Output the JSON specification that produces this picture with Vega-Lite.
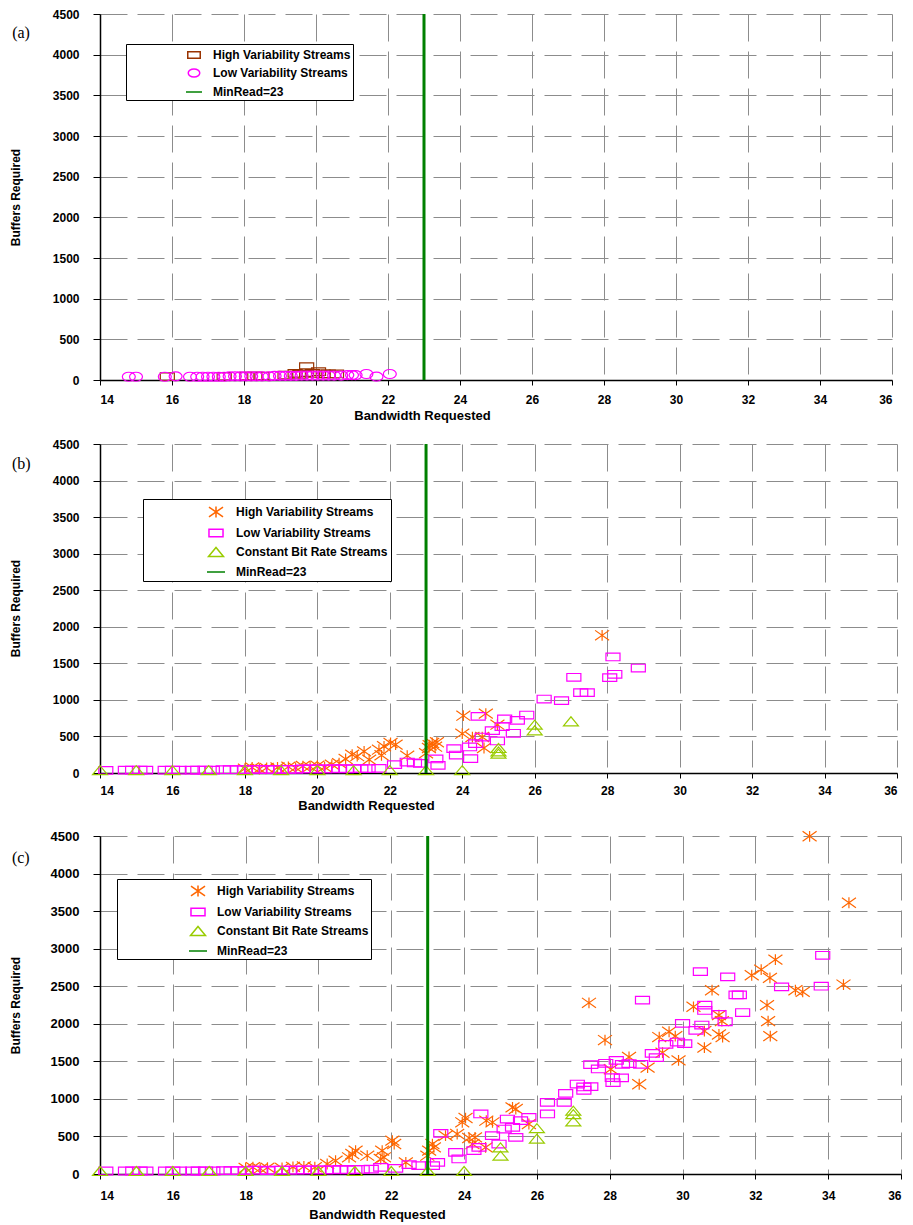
{
  "$schema": "https://vega.github.io/schema/vega-lite/v6.json",
  "background": "white",
  "padding": {"left": 9, "top": 8, "right": 5, "bottom": 3},
  "spacing": 16,
  "config": {
    "view": {"stroke": null},
    "axis": {"labelFont": "Liberation Sans", "labelFontSize": 12, "labelFontWeight": "bold", "labelColor": "#000", "labelOverlap": false, "titleFont": "Liberation Sans", "titleFontSize": 13, "titleFontWeight": "bold", "titleColor": "#000", "domainColor": "#000", "domainWidth": 1.5, "tickColor": "#000", "gridColor": "#8c8c8c", "gridDash": [27, 10], "gridWidth": 1},
    "legend": {"title": null, "orient": "none", "fillColor": "white", "strokeColor": "black", "labelFont": "Liberation Sans", "labelFontSize": 12, "labelFontWeight": "bold", "labelColor": "#000", "labelLimit": 500, "symbolStrokeWidth": 1.5}
  },
  "resolve": {"scale": {"x": "independent", "y": "independent", "color": "independent", "shape": "independent"}},
  "vconcat": [
    {
      "width": 792, "height": 366,
      "layer": [
        {
          "data": {"values": [
            {"series": "High Variability Streams", "bw": 15.87, "buf": 41},
            {"series": "High Variability Streams", "bw": 17.45, "buf": 45},
            {"series": "High Variability Streams", "bw": 18.08, "buf": 49},
            {"series": "High Variability Streams", "bw": 18.3, "buf": 49},
            {"series": "High Variability Streams", "bw": 18.5, "buf": 49},
            {"series": "High Variability Streams", "bw": 19.14, "buf": 61},
            {"series": "High Variability Streams", "bw": 19.42, "buf": 82},
            {"series": "High Variability Streams", "bw": 19.55, "buf": 70},
            {"series": "High Variability Streams", "bw": 19.74, "buf": 90},
            {"series": "High Variability Streams", "bw": 19.74, "buf": 164},
            {"series": "High Variability Streams", "bw": 19.9, "buf": 80},
            {"series": "High Variability Streams", "bw": 20.07, "buf": 102},
            {"series": "High Variability Streams", "bw": 20.2, "buf": 75},
            {"series": "High Variability Streams", "bw": 20.34, "buf": 74},
            {"series": "High Variability Streams", "bw": 20.57, "buf": 74},
            {"series": "Low Variability Streams", "bw": 14.8, "buf": 40},
            {"series": "Low Variability Streams", "bw": 15.0, "buf": 40},
            {"series": "Low Variability Streams", "bw": 15.8, "buf": 40},
            {"series": "Low Variability Streams", "bw": 16.1, "buf": 45},
            {"series": "Low Variability Streams", "bw": 16.5, "buf": 40},
            {"series": "Low Variability Streams", "bw": 16.7, "buf": 40},
            {"series": "Low Variability Streams", "bw": 16.85, "buf": 40},
            {"series": "Low Variability Streams", "bw": 17.0, "buf": 40},
            {"series": "Low Variability Streams", "bw": 17.15, "buf": 40},
            {"series": "Low Variability Streams", "bw": 17.3, "buf": 40},
            {"series": "Low Variability Streams", "bw": 17.45, "buf": 40},
            {"series": "Low Variability Streams", "bw": 17.6, "buf": 45},
            {"series": "Low Variability Streams", "bw": 17.75, "buf": 45},
            {"series": "Low Variability Streams", "bw": 17.9, "buf": 45},
            {"series": "Low Variability Streams", "bw": 18.05, "buf": 45},
            {"series": "Low Variability Streams", "bw": 18.2, "buf": 45},
            {"series": "Low Variability Streams", "bw": 18.35, "buf": 45},
            {"series": "Low Variability Streams", "bw": 18.5, "buf": 45},
            {"series": "Low Variability Streams", "bw": 18.7, "buf": 45},
            {"series": "Low Variability Streams", "bw": 18.85, "buf": 50},
            {"series": "Low Variability Streams", "bw": 19.0, "buf": 50},
            {"series": "Low Variability Streams", "bw": 19.15, "buf": 50},
            {"series": "Low Variability Streams", "bw": 19.3, "buf": 50},
            {"series": "Low Variability Streams", "bw": 19.45, "buf": 50},
            {"series": "Low Variability Streams", "bw": 19.6, "buf": 55},
            {"series": "Low Variability Streams", "bw": 19.75, "buf": 55},
            {"series": "Low Variability Streams", "bw": 19.9, "buf": 55},
            {"series": "Low Variability Streams", "bw": 20.05, "buf": 55},
            {"series": "Low Variability Streams", "bw": 20.2, "buf": 55},
            {"series": "Low Variability Streams", "bw": 20.35, "buf": 55},
            {"series": "Low Variability Streams", "bw": 20.5, "buf": 55},
            {"series": "Low Variability Streams", "bw": 20.7, "buf": 55},
            {"series": "Low Variability Streams", "bw": 20.87, "buf": 60},
            {"series": "Low Variability Streams", "bw": 21.0, "buf": 60},
            {"series": "Low Variability Streams", "bw": 21.1, "buf": 60},
            {"series": "Low Variability Streams", "bw": 21.4, "buf": 74},
            {"series": "Low Variability Streams", "bw": 21.68, "buf": 41},
            {"series": "Low Variability Streams", "bw": 22.05, "buf": 74}
          ]},
          "mark": {"type": "point", "filled": false, "size": 324, "strokeWidth": 1.2, "opacity": 1},
          "encoding": {
            "x": {"field": "bw", "type": "quantitative", "scale": {"domain": [14, 36], "nice": false, "zero": false},
                  "axis": {"values": [14, 16, 18, 20, 22, 24, 26, 28, 30, 32, 34, 36], "labelOverlap": false, "title": "Bandwidth Requested", "tickSize": 5, "labelPadding": 9, "titleX": 322, "titleY": 35, "titleBaseline": "middle"}},
            "y": {"field": "buf", "type": "quantitative", "scale": {"domain": [0, 4500], "nice": false},
                  "axis": {"values": [0, 500, 1000, 1500, 2000, 2500, 3000, 3500, 4000, 4500], "labelOverlap": false, "tickCount": 10, "format": "d", "title": "Buffers Required", "tickSize": 7, "labelPadding": 14, "titleX": -85, "titleY": 183, "titleBaseline": "middle", "titleFontSize": 12}},
            "color": {"field": "series", "type": "nominal",
                      "scale": {"domain": ["High Variability Streams", "Low Variability Streams", "MinRead=23"], "range": ["#993300", "#ff00ff", "#008000"]},
                      "legend": {"legendX": 26, "legendY": 30, "padding": 2, "symbolOffset": 57, "labelOffset": 10, "rowPadding": 2, "symbolSize": 256}},
            "shape": {"field": "series", "type": "nominal",
                      "scale": {"domain": ["High Variability Streams", "Low Variability Streams", "MinRead=23"], "range": ["M-0.78,-0.42L0.78,-0.42L0.78,0.42L-0.78,0.42Z", "M-0.72,0A0.72,0.5,0,1,0,0.72,0A0.72,0.5,0,1,0,-0.72,0Z", "stroke"]},
                      "legend": {"legendX": 26, "legendY": 30, "padding": 2, "symbolOffset": 57, "labelOffset": 10, "rowPadding": 2, "symbolSize": 256}}
          }
        },
        {
          "data": {"values": [{"series": "MinRead=23", "bw": 23}]},
          "mark": {"type": "rule", "strokeWidth": 3},
          "encoding": {"x": {"field": "bw", "type": "quantitative"}, "color": {"field": "series", "type": "nominal"}}
        },
        {
          "data": {"values": [{"label": "(a)"}]},
          "mark": {"type": "text", "font": "Liberation Serif", "fontSize": 16, "align": "left", "baseline": "middle", "color": "#000"},
          "encoding": {"x": {"datum": 11.56}, "y": {"datum": 4266}, "text": {"field": "label"}}
        }
      ]
    },
    {
      "width": 797, "height": 329,
      "layer": [
        {
          "data": {"values": [
            {"series": "High Variability Streams", "bw": 18.0, "buf": 60},
            {"series": "High Variability Streams", "bw": 18.2, "buf": 75},
            {"series": "High Variability Streams", "bw": 18.4, "buf": 55},
            {"series": "High Variability Streams", "bw": 18.6, "buf": 70},
            {"series": "High Variability Streams", "bw": 18.9, "buf": 75},
            {"series": "High Variability Streams", "bw": 19.2, "buf": 85},
            {"series": "High Variability Streams", "bw": 19.4, "buf": 70},
            {"series": "High Variability Streams", "bw": 19.6, "buf": 95},
            {"series": "High Variability Streams", "bw": 19.8, "buf": 85},
            {"series": "High Variability Streams", "bw": 20.0, "buf": 100},
            {"series": "High Variability Streams", "bw": 20.2, "buf": 80},
            {"series": "High Variability Streams", "bw": 20.4, "buf": 115},
            {"series": "High Variability Streams", "bw": 20.6, "buf": 135},
            {"series": "High Variability Streams", "bw": 20.78, "buf": 192},
            {"series": "High Variability Streams", "bw": 20.96, "buf": 251},
            {"series": "High Variability Streams", "bw": 21.1, "buf": 230},
            {"series": "High Variability Streams", "bw": 21.29, "buf": 296},
            {"series": "High Variability Streams", "bw": 21.43, "buf": 182},
            {"series": "High Variability Streams", "bw": 21.7, "buf": 319},
            {"series": "High Variability Streams", "bw": 21.77, "buf": 242},
            {"series": "High Variability Streams", "bw": 21.84, "buf": 365},
            {"series": "High Variability Streams", "bw": 22.02, "buf": 410},
            {"series": "High Variability Streams", "bw": 22.16, "buf": 388},
            {"series": "High Variability Streams", "bw": 22.48, "buf": 237},
            {"series": "High Variability Streams", "bw": 23.0, "buf": 270},
            {"series": "High Variability Streams", "bw": 23.08, "buf": 342},
            {"series": "High Variability Streams", "bw": 23.1, "buf": 380},
            {"series": "High Variability Streams", "bw": 23.17, "buf": 410},
            {"series": "High Variability Streams", "bw": 23.25, "buf": 360},
            {"series": "High Variability Streams", "bw": 23.3, "buf": 420},
            {"series": "High Variability Streams", "bw": 24.0, "buf": 538},
            {"series": "High Variability Streams", "bw": 24.03, "buf": 784},
            {"series": "High Variability Streams", "bw": 24.28, "buf": 492},
            {"series": "High Variability Streams", "bw": 24.55, "buf": 492},
            {"series": "High Variability Streams", "bw": 24.6, "buf": 342},
            {"series": "High Variability Streams", "bw": 24.65, "buf": 812},
            {"series": "High Variability Streams", "bw": 24.97, "buf": 661},
            {"series": "High Variability Streams", "bw": 27.86, "buf": 1883},
            {"series": "Low Variability Streams", "bw": 14.16, "buf": 35},
            {"series": "Low Variability Streams", "bw": 14.7, "buf": 40},
            {"series": "Low Variability Streams", "bw": 14.9, "buf": 40},
            {"series": "Low Variability Streams", "bw": 15.1, "buf": 40},
            {"series": "Low Variability Streams", "bw": 15.26, "buf": 40},
            {"series": "Low Variability Streams", "bw": 15.8, "buf": 40},
            {"series": "Low Variability Streams", "bw": 16.0, "buf": 40},
            {"series": "Low Variability Streams", "bw": 16.18, "buf": 40},
            {"series": "Low Variability Streams", "bw": 16.55, "buf": 40},
            {"series": "Low Variability Streams", "bw": 16.7, "buf": 40},
            {"series": "Low Variability Streams", "bw": 16.9, "buf": 40},
            {"series": "Low Variability Streams", "bw": 17.1, "buf": 40},
            {"series": "Low Variability Streams", "bw": 17.4, "buf": 45},
            {"series": "Low Variability Streams", "bw": 17.6, "buf": 45},
            {"series": "Low Variability Streams", "bw": 17.8, "buf": 45},
            {"series": "Low Variability Streams", "bw": 18.0, "buf": 45},
            {"series": "Low Variability Streams", "bw": 18.2, "buf": 50},
            {"series": "Low Variability Streams", "bw": 18.4, "buf": 50},
            {"series": "Low Variability Streams", "bw": 18.6, "buf": 45},
            {"series": "Low Variability Streams", "bw": 18.8, "buf": 50},
            {"series": "Low Variability Streams", "bw": 19.0, "buf": 50},
            {"series": "Low Variability Streams", "bw": 19.2, "buf": 50},
            {"series": "Low Variability Streams", "bw": 19.4, "buf": 50},
            {"series": "Low Variability Streams", "bw": 19.6, "buf": 55},
            {"series": "Low Variability Streams", "bw": 19.8, "buf": 55},
            {"series": "Low Variability Streams", "bw": 20.0, "buf": 55},
            {"series": "Low Variability Streams", "bw": 20.2, "buf": 55},
            {"series": "Low Variability Streams", "bw": 20.4, "buf": 55},
            {"series": "Low Variability Streams", "bw": 20.6, "buf": 60},
            {"series": "Low Variability Streams", "bw": 20.8, "buf": 55},
            {"series": "Low Variability Streams", "bw": 21.0, "buf": 60},
            {"series": "Low Variability Streams", "bw": 21.2, "buf": 60},
            {"series": "Low Variability Streams", "bw": 21.4, "buf": 60},
            {"series": "Low Variability Streams", "bw": 21.7, "buf": 64},
            {"series": "Low Variability Streams", "bw": 22.13, "buf": 114},
            {"series": "Low Variability Streams", "bw": 22.48, "buf": 150},
            {"series": "Low Variability Streams", "bw": 22.68, "buf": 137},
            {"series": "Low Variability Streams", "bw": 22.85, "buf": 132},
            {"series": "Low Variability Streams", "bw": 23.27, "buf": 192},
            {"series": "Low Variability Streams", "bw": 23.33, "buf": 105},
            {"series": "Low Variability Streams", "bw": 23.77, "buf": 333},
            {"series": "Low Variability Streams", "bw": 23.84, "buf": 246},
            {"series": "Low Variability Streams", "bw": 24.2, "buf": 356},
            {"series": "Low Variability Streams", "bw": 24.23, "buf": 196},
            {"series": "Low Variability Streams", "bw": 24.37, "buf": 401},
            {"series": "Low Variability Streams", "bw": 24.44, "buf": 775},
            {"series": "Low Variability Streams", "bw": 24.55, "buf": 492},
            {"series": "Low Variability Streams", "bw": 24.83, "buf": 579},
            {"series": "Low Variability Streams", "bw": 24.97, "buf": 438},
            {"series": "Low Variability Streams", "bw": 25.1, "buf": 634},
            {"series": "Low Variability Streams", "bw": 25.17, "buf": 739},
            {"series": "Low Variability Streams", "bw": 25.41, "buf": 543},
            {"series": "Low Variability Streams", "bw": 25.52, "buf": 720},
            {"series": "Low Variability Streams", "bw": 25.78, "buf": 793},
            {"series": "Low Variability Streams", "bw": 26.26, "buf": 1012},
            {"series": "Low Variability Streams", "bw": 26.74, "buf": 990},
            {"series": "Low Variability Streams", "bw": 27.08, "buf": 1309},
            {"series": "Low Variability Streams", "bw": 27.27, "buf": 1099},
            {"series": "Low Variability Streams", "bw": 27.45, "buf": 1099},
            {"series": "Low Variability Streams", "bw": 28.07, "buf": 1304},
            {"series": "Low Variability Streams", "bw": 28.16, "buf": 1587},
            {"series": "Low Variability Streams", "bw": 28.21, "buf": 1350},
            {"series": "Low Variability Streams", "bw": 28.86, "buf": 1436},
            {"series": "Constant Bit Rate Streams", "bw": 14, "buf": 40},
            {"series": "Constant Bit Rate Streams", "bw": 15, "buf": 40},
            {"series": "Constant Bit Rate Streams", "bw": 16, "buf": 40},
            {"series": "Constant Bit Rate Streams", "bw": 17, "buf": 40},
            {"series": "Constant Bit Rate Streams", "bw": 18, "buf": 40},
            {"series": "Constant Bit Rate Streams", "bw": 19, "buf": 40},
            {"series": "Constant Bit Rate Streams", "bw": 20, "buf": 40},
            {"series": "Constant Bit Rate Streams", "bw": 21, "buf": 40},
            {"series": "Constant Bit Rate Streams", "bw": 22, "buf": 40},
            {"series": "Constant Bit Rate Streams", "bw": 23, "buf": 40},
            {"series": "Constant Bit Rate Streams", "bw": 24, "buf": 40},
            {"series": "Constant Bit Rate Streams", "bw": 25, "buf": 264},
            {"series": "Constant Bit Rate Streams", "bw": 25, "buf": 296},
            {"series": "Constant Bit Rate Streams", "bw": 25, "buf": 342},
            {"series": "Constant Bit Rate Streams", "bw": 26, "buf": 584},
            {"series": "Constant Bit Rate Streams", "bw": 26, "buf": 661},
            {"series": "Constant Bit Rate Streams", "bw": 27, "buf": 707}
          ]},
          "mark": {"type": "point", "filled": false, "size": 324, "strokeWidth": 1.2, "opacity": 1},
          "encoding": {
            "x": {"field": "bw", "type": "quantitative", "scale": {"domain": [14, 36], "nice": false, "zero": false},
                  "axis": {"values": [14, 16, 18, 20, 22, 24, 26, 28, 30, 32, 34, 36], "labelOverlap": false, "title": "Bandwidth Requested", "tickSize": 5, "labelPadding": 7, "titleX": 266, "titleY": 32, "titleBaseline": "middle"}},
            "y": {"field": "buf", "type": "quantitative", "scale": {"domain": [0, 4500], "nice": false},
                  "axis": {"values": [0, 500, 1000, 1500, 2000, 2500, 3000, 3500, 4000, 4500], "labelOverlap": false, "tickCount": 10, "format": "d", "title": "Buffers Required", "tickSize": 7, "labelPadding": 14, "titleX": -85, "titleY": 164, "titleBaseline": "middle", "titleFontSize": 12}},
            "color": {"field": "series", "type": "nominal",
                      "scale": {"domain": ["High Variability Streams", "Low Variability Streams", "Constant Bit Rate Streams", "MinRead=23"], "range": ["#ff6600", "#ff00ff", "#99cc00", "#008000"]},
                      "legend": {"legendX": 43, "legendY": 55, "padding": 3, "symbolOffset": 60, "labelOffset": 10, "rowPadding": 2, "symbolSize": 324}},
            "shape": {"field": "series", "type": "nominal",
                      "scale": {"domain": ["High Variability Streams", "Low Variability Streams", "Constant Bit Rate Streams", "MinRead=23"], "range": ["M-0.78,-0.55L0.78,0.55M-0.78,0.55L0.78,-0.55M0,-0.6L0,0.6", "M-0.78,-0.42L0.78,-0.42L0.78,0.42L-0.78,0.42Z", "M-0.83,0.5L0,-0.5L0.83,0.5Z", "stroke"]},
                      "legend": {"legendX": 43, "legendY": 55, "padding": 3, "symbolOffset": 60, "labelOffset": 10, "rowPadding": 2, "symbolSize": 324}}
          }
        },
        {
          "data": {"values": [{"series": "MinRead=23", "bw": 23}]},
          "mark": {"type": "rule", "strokeWidth": 3},
          "encoding": {"x": {"field": "bw", "type": "quantitative"}, "color": {"field": "series", "type": "nominal"}}
        },
        {
          "data": {"values": [{"label": "(b)"}]},
          "mark": {"type": "text", "font": "Liberation Serif", "fontSize": 16, "align": "left", "baseline": "middle", "color": "#000"},
          "encoding": {"x": {"datum": 11.57}, "y": {"datum": 4226}, "text": {"field": "label"}}
        }
      ]
    },
    {
      "width": 801, "height": 338,
      "layer": [
        {
          "data": {"values": [
            {"series": "High Variability Streams", "bw": 18.0, "buf": 80},
            {"series": "High Variability Streams", "bw": 18.2, "buf": 90},
            {"series": "High Variability Streams", "bw": 18.4, "buf": 70},
            {"series": "High Variability Streams", "bw": 18.6, "buf": 85},
            {"series": "High Variability Streams", "bw": 19.0, "buf": 80},
            {"series": "High Variability Streams", "bw": 19.3, "buf": 95},
            {"series": "High Variability Streams", "bw": 19.6, "buf": 100},
            {"series": "High Variability Streams", "bw": 19.9, "buf": 90},
            {"series": "High Variability Streams", "bw": 20.24, "buf": 133},
            {"series": "High Variability Streams", "bw": 20.47, "buf": 177},
            {"series": "High Variability Streams", "bw": 20.84, "buf": 222},
            {"series": "High Variability Streams", "bw": 20.93, "buf": 266},
            {"series": "High Variability Streams", "bw": 21.02, "buf": 311},
            {"series": "High Variability Streams", "bw": 21.34, "buf": 244},
            {"series": "High Variability Streams", "bw": 21.71, "buf": 200},
            {"series": "High Variability Streams", "bw": 21.75, "buf": 311},
            {"series": "High Variability Streams", "bw": 21.8, "buf": 222},
            {"series": "High Variability Streams", "bw": 22.03, "buf": 444},
            {"series": "High Variability Streams", "bw": 22.08, "buf": 399},
            {"series": "High Variability Streams", "bw": 22.4, "buf": 155},
            {"series": "High Variability Streams", "bw": 22.99, "buf": 244},
            {"series": "High Variability Streams", "bw": 23.04, "buf": 311},
            {"series": "High Variability Streams", "bw": 23.13, "buf": 399},
            {"series": "High Variability Streams", "bw": 23.17, "buf": 355},
            {"series": "High Variability Streams", "bw": 23.49, "buf": 510},
            {"series": "High Variability Streams", "bw": 23.81, "buf": 532},
            {"series": "High Variability Streams", "bw": 23.95, "buf": 688},
            {"series": "High Variability Streams", "bw": 24.04, "buf": 745},
            {"series": "High Variability Streams", "bw": 24.14, "buf": 479},
            {"series": "High Variability Streams", "bw": 24.23, "buf": 399},
            {"series": "High Variability Streams", "bw": 24.3, "buf": 488},
            {"series": "High Variability Streams", "bw": 24.59, "buf": 355},
            {"series": "High Variability Streams", "bw": 24.61, "buf": 710},
            {"series": "High Variability Streams", "bw": 24.78, "buf": 688},
            {"series": "High Variability Streams", "bw": 25.33, "buf": 887},
            {"series": "High Variability Streams", "bw": 25.42, "buf": 865},
            {"series": "High Variability Streams", "bw": 25.78, "buf": 666},
            {"series": "High Variability Streams", "bw": 27.43, "buf": 2279},
            {"series": "High Variability Streams", "bw": 27.87, "buf": 1783},
            {"series": "High Variability Streams", "bw": 28.03, "buf": 1394},
            {"series": "High Variability Streams", "bw": 28.53, "buf": 1558},
            {"series": "High Variability Streams", "bw": 28.81, "buf": 1195},
            {"series": "High Variability Streams", "bw": 29.04, "buf": 1416},
            {"series": "High Variability Streams", "bw": 29.36, "buf": 1823},
            {"series": "High Variability Streams", "bw": 29.45, "buf": 1615},
            {"series": "High Variability Streams", "bw": 29.63, "buf": 1894},
            {"series": "High Variability Streams", "bw": 29.8, "buf": 1836},
            {"series": "High Variability Streams", "bw": 29.89, "buf": 1513},
            {"series": "High Variability Streams", "bw": 30.3, "buf": 2226},
            {"series": "High Variability Streams", "bw": 30.6, "buf": 1903},
            {"series": "High Variability Streams", "bw": 30.6, "buf": 1682},
            {"series": "High Variability Streams", "bw": 30.81, "buf": 2447},
            {"series": "High Variability Streams", "bw": 31.0, "buf": 2115},
            {"series": "High Variability Streams", "bw": 31.08, "buf": 2035},
            {"series": "High Variability Streams", "bw": 31.0, "buf": 1858},
            {"series": "High Variability Streams", "bw": 31.1, "buf": 1823},
            {"series": "High Variability Streams", "bw": 31.9, "buf": 2646},
            {"series": "High Variability Streams", "bw": 32.16, "buf": 2721},
            {"series": "High Variability Streams", "bw": 32.4, "buf": 2611},
            {"series": "High Variability Streams", "bw": 32.55, "buf": 2854},
            {"series": "High Variability Streams", "bw": 32.32, "buf": 2248},
            {"series": "High Variability Streams", "bw": 32.35, "buf": 2035},
            {"series": "High Variability Streams", "bw": 32.41, "buf": 1836},
            {"series": "High Variability Streams", "bw": 33.1, "buf": 2447},
            {"series": "High Variability Streams", "bw": 33.3, "buf": 2425},
            {"series": "High Variability Streams", "bw": 33.49, "buf": 4496},
            {"series": "High Variability Streams", "bw": 34.42, "buf": 2522},
            {"series": "High Variability Streams", "bw": 34.57, "buf": 3611},
            {"series": "Low Variability Streams", "bw": 14.16, "buf": 40},
            {"series": "Low Variability Streams", "bw": 14.7, "buf": 40},
            {"series": "Low Variability Streams", "bw": 14.9, "buf": 40},
            {"series": "Low Variability Streams", "bw": 15.1, "buf": 40},
            {"series": "Low Variability Streams", "bw": 15.26, "buf": 40},
            {"series": "Low Variability Streams", "bw": 15.8, "buf": 40},
            {"series": "Low Variability Streams", "bw": 16.0, "buf": 40},
            {"series": "Low Variability Streams", "bw": 16.18, "buf": 40},
            {"series": "Low Variability Streams", "bw": 16.55, "buf": 40},
            {"series": "Low Variability Streams", "bw": 16.7, "buf": 40},
            {"series": "Low Variability Streams", "bw": 16.9, "buf": 40},
            {"series": "Low Variability Streams", "bw": 17.1, "buf": 40},
            {"series": "Low Variability Streams", "bw": 17.4, "buf": 45},
            {"series": "Low Variability Streams", "bw": 17.6, "buf": 45},
            {"series": "Low Variability Streams", "bw": 17.8, "buf": 45},
            {"series": "Low Variability Streams", "bw": 18.0, "buf": 45},
            {"series": "Low Variability Streams", "bw": 18.2, "buf": 50},
            {"series": "Low Variability Streams", "bw": 18.4, "buf": 50},
            {"series": "Low Variability Streams", "bw": 18.6, "buf": 45},
            {"series": "Low Variability Streams", "bw": 18.8, "buf": 50},
            {"series": "Low Variability Streams", "bw": 19.0, "buf": 50},
            {"series": "Low Variability Streams", "bw": 19.2, "buf": 50},
            {"series": "Low Variability Streams", "bw": 19.4, "buf": 50},
            {"series": "Low Variability Streams", "bw": 19.6, "buf": 55},
            {"series": "Low Variability Streams", "bw": 19.8, "buf": 55},
            {"series": "Low Variability Streams", "bw": 20.0, "buf": 55},
            {"series": "Low Variability Streams", "bw": 20.2, "buf": 55},
            {"series": "Low Variability Streams", "bw": 20.4, "buf": 55},
            {"series": "Low Variability Streams", "bw": 20.6, "buf": 60},
            {"series": "Low Variability Streams", "bw": 20.8, "buf": 55},
            {"series": "Low Variability Streams", "bw": 21.0, "buf": 60},
            {"series": "Low Variability Streams", "bw": 21.2, "buf": 60},
            {"series": "Low Variability Streams", "bw": 21.45, "buf": 65},
            {"series": "Low Variability Streams", "bw": 21.71, "buf": 89},
            {"series": "Low Variability Streams", "bw": 22.12, "buf": 75},
            {"series": "Low Variability Streams", "bw": 22.49, "buf": 124},
            {"series": "Low Variability Streams", "bw": 22.76, "buf": 111},
            {"series": "Low Variability Streams", "bw": 23.13, "buf": 111},
            {"series": "Low Variability Streams", "bw": 23.27, "buf": 155},
            {"series": "Low Variability Streams", "bw": 23.36, "buf": 541},
            {"series": "Low Variability Streams", "bw": 23.77, "buf": 288},
            {"series": "Low Variability Streams", "bw": 23.86, "buf": 200},
            {"series": "Low Variability Streams", "bw": 24.27, "buf": 311},
            {"series": "Low Variability Streams", "bw": 24.41, "buf": 355},
            {"series": "Low Variability Streams", "bw": 24.46, "buf": 799},
            {"series": "Low Variability Streams", "bw": 24.78, "buf": 510},
            {"series": "Low Variability Streams", "bw": 24.96, "buf": 399},
            {"series": "Low Variability Streams", "bw": 25.1, "buf": 599},
            {"series": "Low Variability Streams", "bw": 25.19, "buf": 732},
            {"series": "Low Variability Streams", "bw": 25.33, "buf": 621},
            {"series": "Low Variability Streams", "bw": 25.42, "buf": 488},
            {"series": "Low Variability Streams", "bw": 25.55, "buf": 710},
            {"series": "Low Variability Streams", "bw": 25.78, "buf": 754},
            {"series": "Low Variability Streams", "bw": 26.29, "buf": 799},
            {"series": "Low Variability Streams", "bw": 26.29, "buf": 954},
            {"series": "Low Variability Streams", "bw": 26.75, "buf": 954},
            {"series": "Low Variability Streams", "bw": 26.79, "buf": 1074},
            {"series": "Low Variability Streams", "bw": 27.11, "buf": 1198},
            {"series": "Low Variability Streams", "bw": 27.29, "buf": 1159},
            {"series": "Low Variability Streams", "bw": 27.48, "buf": 1164},
            {"series": "Low Variability Streams", "bw": 27.29, "buf": 1115},
            {"series": "Low Variability Streams", "bw": 28.09, "buf": 1217},
            {"series": "Low Variability Streams", "bw": 28.07, "buf": 1283},
            {"series": "Low Variability Streams", "bw": 28.32, "buf": 1279},
            {"series": "Low Variability Streams", "bw": 27.48, "buf": 1456},
            {"series": "Low Variability Streams", "bw": 27.69, "buf": 1398},
            {"series": "Low Variability Streams", "bw": 27.89, "buf": 1474},
            {"series": "Low Variability Streams", "bw": 28.18, "buf": 1513},
            {"series": "Low Variability Streams", "bw": 28.35, "buf": 1460},
            {"series": "Low Variability Streams", "bw": 28.53, "buf": 1469},
            {"series": "Low Variability Streams", "bw": 28.85, "buf": 1460},
            {"series": "Low Variability Streams", "bw": 28.9, "buf": 2314},
            {"series": "Low Variability Streams", "bw": 29.17, "buf": 1606},
            {"series": "Low Variability Streams", "bw": 29.28, "buf": 1549},
            {"series": "Low Variability Streams", "bw": 29.54, "buf": 1726},
            {"series": "Low Variability Streams", "bw": 29.86, "buf": 1757},
            {"series": "Low Variability Streams", "bw": 30.06, "buf": 1735},
            {"series": "Low Variability Streams", "bw": 30.0, "buf": 2005},
            {"series": "Low Variability Streams", "bw": 30.37, "buf": 1912},
            {"series": "Low Variability Streams", "bw": 30.53, "buf": 1983},
            {"series": "Low Variability Streams", "bw": 30.61, "buf": 2177},
            {"series": "Low Variability Streams", "bw": 30.61, "buf": 2248},
            {"series": "Low Variability Streams", "bw": 30.49, "buf": 2695},
            {"series": "Low Variability Streams", "bw": 31.0, "buf": 2124},
            {"series": "Low Variability Streams", "bw": 31.17, "buf": 2027},
            {"series": "Low Variability Streams", "bw": 31.24, "buf": 2624},
            {"series": "Low Variability Streams", "bw": 31.47, "buf": 2385},
            {"series": "Low Variability Streams", "bw": 31.56, "buf": 2385},
            {"series": "Low Variability Streams", "bw": 31.65, "buf": 2150},
            {"series": "Low Variability Streams", "bw": 32.72, "buf": 2491},
            {"series": "Low Variability Streams", "bw": 33.81, "buf": 2500},
            {"series": "Low Variability Streams", "bw": 33.85, "buf": 2912},
            {"series": "Constant Bit Rate Streams", "bw": 14, "buf": 40},
            {"series": "Constant Bit Rate Streams", "bw": 15, "buf": 40},
            {"series": "Constant Bit Rate Streams", "bw": 16, "buf": 40},
            {"series": "Constant Bit Rate Streams", "bw": 17, "buf": 40},
            {"series": "Constant Bit Rate Streams", "bw": 18, "buf": 40},
            {"series": "Constant Bit Rate Streams", "bw": 19, "buf": 40},
            {"series": "Constant Bit Rate Streams", "bw": 20, "buf": 40},
            {"series": "Constant Bit Rate Streams", "bw": 21, "buf": 40},
            {"series": "Constant Bit Rate Streams", "bw": 22, "buf": 40},
            {"series": "Constant Bit Rate Streams", "bw": 23, "buf": 40},
            {"series": "Constant Bit Rate Streams", "bw": 24, "buf": 40},
            {"series": "Constant Bit Rate Streams", "bw": 25, "buf": 244},
            {"series": "Constant Bit Rate Streams", "bw": 25, "buf": 355},
            {"series": "Constant Bit Rate Streams", "bw": 26, "buf": 470},
            {"series": "Constant Bit Rate Streams", "bw": 26, "buf": 610},
            {"series": "Constant Bit Rate Streams", "bw": 27, "buf": 700},
            {"series": "Constant Bit Rate Streams", "bw": 27, "buf": 797},
            {"series": "Constant Bit Rate Streams", "bw": 27, "buf": 843}
          ]},
          "mark": {"type": "point", "filled": false, "size": 324, "strokeWidth": 1.2, "opacity": 1},
          "encoding": {
            "x": {"field": "bw", "type": "quantitative", "scale": {"domain": [14, 36], "nice": false, "zero": false},
                  "axis": {"values": [14, 16, 18, 20, 22, 24, 26, 28, 30, 32, 34, 36], "labelOverlap": false, "title": "Bandwidth Requested", "tickSize": 5, "labelPadding": 11, "titleX": 277, "titleY": 40, "titleBaseline": "middle"}},
            "y": {"field": "buf", "type": "quantitative", "scale": {"domain": [0, 4500], "nice": false},
                  "axis": {"values": [0, 500, 1000, 1500, 2000, 2500, 3000, 3500, 4000, 4500], "labelOverlap": false, "tickCount": 10, "format": "d", "title": "Buffers Required", "tickSize": 7, "labelPadding": 14, "titleX": -85, "titleY": 169, "titleBaseline": "middle", "titleFontSize": 12, "labelFontSize": 13}},
            "color": {"field": "series", "type": "nominal",
                      "scale": {"domain": ["High Variability Streams", "Low Variability Streams", "Constant Bit Rate Streams", "MinRead=23"], "range": ["#ff6600", "#ff00ff", "#99cc00", "#008000"]},
                      "legend": {"legendX": 17, "legendY": 43, "padding": 2, "symbolOffset": 69, "labelOffset": 9, "rowPadding": 2, "symbolSize": 324}},
            "shape": {"field": "series", "type": "nominal",
                      "scale": {"domain": ["High Variability Streams", "Low Variability Streams", "Constant Bit Rate Streams", "MinRead=23"], "range": ["M-0.78,-0.55L0.78,0.55M-0.78,0.55L0.78,-0.55M0,-0.6L0,0.6", "M-0.78,-0.42L0.78,-0.42L0.78,0.42L-0.78,0.42Z", "M-0.83,0.5L0,-0.5L0.83,0.5Z", "stroke"]},
                      "legend": {"legendX": 17, "legendY": 43, "padding": 2, "symbolOffset": 69, "labelOffset": 9, "rowPadding": 2, "symbolSize": 324}}
          }
        },
        {
          "data": {"values": [{"series": "MinRead=23", "bw": 23}]},
          "mark": {"type": "rule", "strokeWidth": 3},
          "encoding": {"x": {"field": "bw", "type": "quantitative"}, "color": {"field": "series", "type": "nominal"}}
        },
        {
          "data": {"values": [{"label": "(c)"}]},
          "mark": {"type": "text", "font": "Liberation Serif", "fontSize": 16, "align": "left", "baseline": "middle", "color": "#000"},
          "encoding": {"x": {"datum": 11.58}, "y": {"datum": 4207}, "text": {"field": "label"}}
        }
      ]
    }
  ]
}
